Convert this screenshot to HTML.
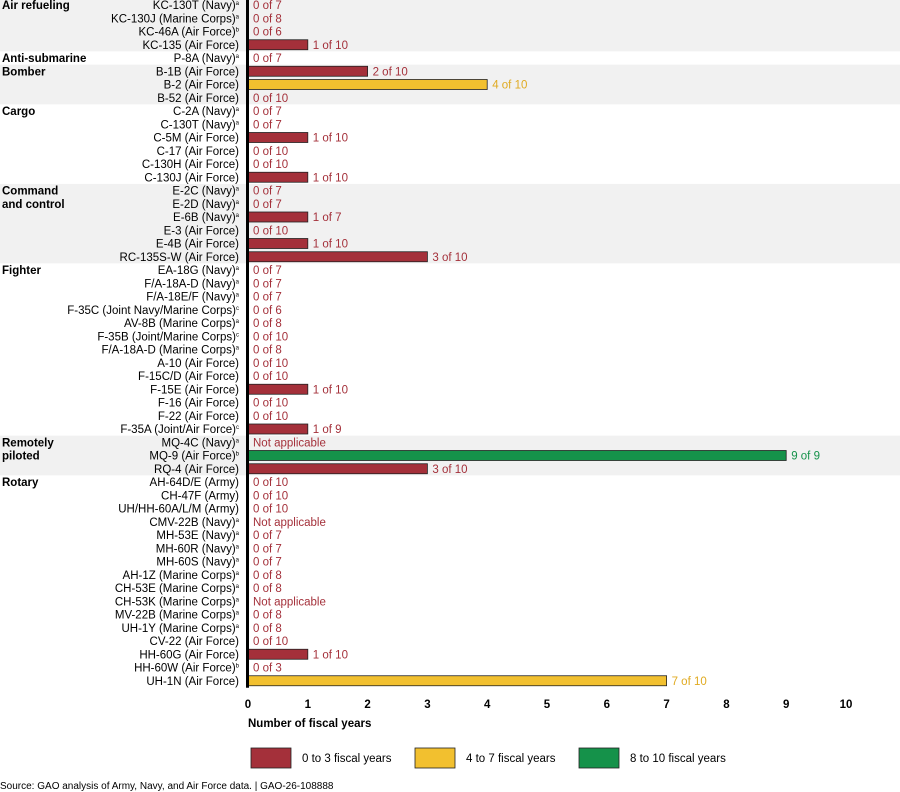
<!DOCTYPE html>
<html><head><meta charset="utf-8"><style>
html,body{margin:0;padding:0;background:#fff;width:900px;height:792px;overflow:hidden}
svg{display:block;font-family:"Liberation Sans",Arial,sans-serif}
</style></head><body>
<svg id="chart" width="900" height="792" viewBox="0 0 900 792"></svg>
<script>
const groups = [
  {name:["Air refueling"], n:4},
  {name:["Anti-submarine"], n:1},
  {name:["Bomber"], n:3},
  {name:["Cargo"], n:6},
  {name:["Command","and control"], n:6},
  {name:["Fighter"], n:13},
  {name:["Remotely","piloted"], n:3},
  {name:["Rotary"], n:16}
];
const aircraft = ["KC-130T (Navy)","KC-130J (Marine Corps)","KC-46A (Air Force)","KC-135 (Air Force)","P-8A (Navy)","B-1B (Air Force)","B-2 (Air Force)","B-52 (Air Force)","C-2A (Navy)","C-130T (Navy)","C-5M (Air Force)","C-17 (Air Force)","C-130H (Air Force)","C-130J (Air Force)","E-2C (Navy)","E-2D (Navy)","E-6B (Navy)","E-3 (Air Force)","E-4B (Air Force)","RC-135S-W (Air Force)","EA-18G (Navy)","F/A-18A-D (Navy)","F/A-18E/F (Navy)","F-35C (Joint Navy/Marine Corps)","AV-8B (Marine Corps)","F-35B (Joint/Marine Corps)","F/A-18A-D (Marine Corps)","A-10 (Air Force)","F-15C/D (Air Force)","F-15E (Air Force)","F-16 (Air Force)","F-22 (Air Force)","F-35A (Joint/Air Force)","MQ-4C (Navy)","MQ-9 (Air Force)","RQ-4 (Air Force)","AH-64D/E (Army)","CH-47F (Army)","UH/HH-60A/L/M (Army)","CMV-22B (Navy)","MH-53E (Navy)","MH-60R (Navy)","MH-60S (Navy)","AH-1Z (Marine Corps)","CH-53E (Marine Corps)","CH-53K (Marine Corps)","MV-22B (Marine Corps)","UH-1Y (Marine Corps)","CV-22 (Air Force)","HH-60G (Air Force)","HH-60W (Air Force)","UH-1N (Air Force)"];
const notes = ["a","a","b","","a","","","","a","a","","","","","a","a","a","","","","a","a","a","c","a","c","a","","","","","","c","a","b","","","","","a","a","a","a","a","a","a","a","a","","","b",""];
const years = [0,0,0,1,0,2,4,0,0,0,1,0,0,1,0,0,1,0,1,3,0,0,0,0,0,0,0,0,0,1,0,0,1,null,9,3,0,0,0,null,0,0,0,0,0,null,0,0,0,1,0,7];
const totals = [7,8,6,10,7,10,10,10,7,7,10,10,10,10,7,7,7,10,10,10,7,7,7,6,8,10,8,10,10,10,10,10,9,null,9,10,10,10,10,null,7,7,7,8,8,null,8,8,10,10,3,10];
const ticks = [0,1,2,3,4,5,6,7,8,9,10];

const NS="http://www.w3.org/2000/svg";
const svg=document.getElementById('chart');
const x0=248, xs=59.8, y0=5, pitch=13.25;
const X=v=>x0+v*xs, Y=i=>y0+i*pitch;
function mk(t,a,p){const e=document.createElementNS(NS,t);for(const k in a)e.setAttribute(k,a[k]);(p||svg).appendChild(e);return e;}
function col(v){return v<=3?["#a4303a","#a4303a"]:v<=7?["#f2c02f","#e0aa20"]:["#15924a","#15924a"];}

// group bands
let idx=0;
groups.forEach((g,gi)=>{
  if(gi%2===0){
    const r=mk('rect',{x:0,y:Y(idx)-pitch/2,width:900,height:g.n*pitch,fill:'#f1f1f1'});
    
    
  }
  g.name.forEach((ln,li)=>{
    const t=mk('text',{x:2,y:Y(idx+li)+4,'font-size':11.5,'font-weight':'bold',fill:'#000'});
    t.textContent=ln;
    
    
  });
  idx+=g.n;
});

aircraft.forEach((a,i)=>{
  const y=Y(i);
  const t=mk('text',{x:239,y:y+4,'font-size':11.5,'text-anchor':'end',fill:'#000'});
  t.textContent=a;
  
  
  if(notes[i]){
    const s=mk('tspan',{'font-size':6,dy:-4},t);s.textContent=notes[i];
  }
  const v=years[i];
  let lx=X(0)+5, c="#a4303a", txt="Not applicable";
  if(v!==null){
    const [f,tc]=col(v); c=tc;
    txt=v+" of "+totals[i];
    if(v>0){
      const b=mk('rect',{x:X(0),y:y-5,width:X(v)-X(0),height:10,fill:f,stroke:'#222','stroke-width':0.8});
      
      
      lx=X(v)+5;
    }
  }
  const vl=mk('text',{x:lx,y:y+4,'font-size':11.5,fill:c});
  vl.textContent=txt;
  
  
});

const ax=mk('line',{x1:X(0)-0.5,y1:0,x2:X(0)-0.5,y2:Y(51)+7,stroke:'#000','stroke-width':3});



ticks.forEach(v=>{
  const t=mk('text',{x:X(v),y:708,'font-size':11.5,'font-weight':'bold','text-anchor':'middle'});
  t.textContent=v;
  
  
});
const at=mk('text',{x:248,y:727,'font-size':11.5,'font-weight':'bold'});
at.textContent="Number of fiscal years";



const legend=[["0 to 3 fiscal years","#a4303a",251],["4 to 7 fiscal years","#f2c02f",415],["8 to 10 fiscal years","#15924a",579]];
legend.forEach(([l,f,x])=>{
  const g=mk('g',{});
  
  
  mk('rect',{x:x,y:748,width:40,height:20,fill:f,stroke:'#222','stroke-width':0.8},g);
  const t=mk('text',{x:x+51,y:762,'font-size':11.5},g);t.textContent=l;
});
const src=mk('text',{x:0,y:789,'font-size':10});
src.textContent="Source: GAO analysis of Army, Navy, and Air Force data.  |  GAO-26-108888";


</script>
</body></html>
